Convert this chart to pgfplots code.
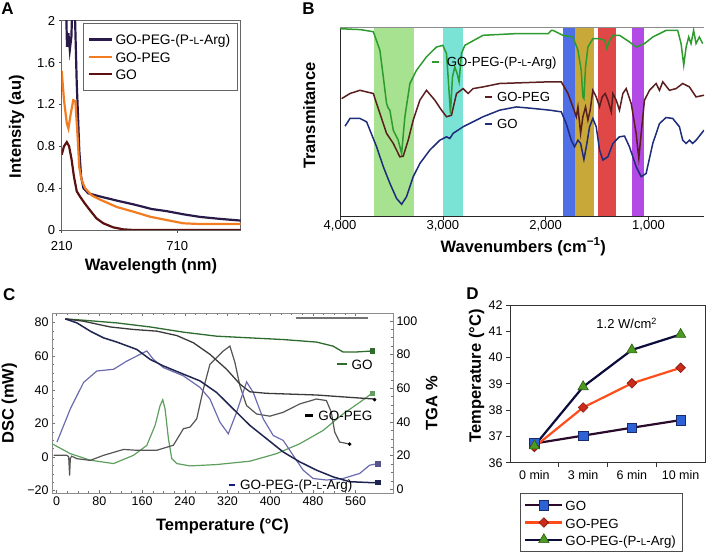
\documentclass[border=0pt]{standalone}
\usepackage{fontspec}
\setmainfont{Liberation Sans}
\usepackage{graphicx}
\usepackage{pgfplots}
\pgfplotsset{compat=1.18}
\newcommand\fs[1]{\fontsize{#1pt}{#1pt}\selectfont}
\newcommand\Lsc{\scalebox{0.75}{L}}
\newcommand\PLA{GO-PEG-(P-\Lsc-Arg)}
\newcommand\lstrutA{\rule[-3.5pt]{0pt}{15.5pt}}
\newcommand\lstrutD{\rule[-3.8pt]{0pt}{16.5pt}}
\definecolor{aPLA}{HTML}{2A1A4A}
\definecolor{aPEG}{HTML}{F47C20}
\definecolor{aGO}{HTML}{5C1010}
\definecolor{bG}{HTML}{2E9B2E}
\definecolor{bP}{HTML}{5A1E1E}
\definecolor{bB}{HTML}{1E2C7A}
\definecolor{band1}{HTML}{A6E28F}
\definecolor{band2}{HTML}{7BE3D6}
\definecolor{band3}{HTML}{4F6FE6}
\definecolor{band4}{HTML}{C9A83A}
\definecolor{band5}{HTML}{E04848}
\definecolor{band6}{HTML}{B44AE6}
\definecolor{cTG}{HTML}{2E6B2E}
\definecolor{cTP}{HTML}{3A3A3A}
\definecolor{cTA}{HTML}{1F2550}
\definecolor{cDA}{HTML}{6B6BB0}
\definecolor{cDP}{HTML}{555555}
\definecolor{cDG}{HTML}{5E9E5E}
\definecolor{dGOl}{HTML}{2A0A2A}
\definecolor{dGOm}{HTML}{2D62D6}
\definecolor{dGOe}{HTML}{1A2A6A}
\definecolor{dPl}{HTML}{FF4D1A}
\definecolor{dPm}{HTML}{CC2A1A}
\definecolor{dPe}{HTML}{7A1A10}
\definecolor{dAl}{HTML}{0C0C3C}
\definecolor{dAm}{HTML}{4C9A22}
\definecolor{dAe}{HTML}{2A5A10}
\begin{document}
\begin{tikzpicture}
\useasboundingbox (0pt,0pt) rectangle (706pt,553pt);
%%%%%%%%%%%%%%%% Panel A
\begin{axis}[
  at={(61.7pt,323pt)}, anchor=south west, scale only axis,
  width=179pt, height=209.3pt,
  xmin=210, xmax=984, ymin=0, ymax=2,
  xtick={210,710}, xticklabels={210,710},
  ytick={0,0.4,0.8,1.2,1.6,2}, yticklabels={0,0.4,0.8,1.2,1.6,2},
  tick align=outside, xtick pos=bottom, ytick pos=left, major tick length=3pt,
  tick style={black!70, line width=0.6pt},
  axis line style={black!60, line width=0.8pt},
  ticklabel style={font=\fs{13}},
  xticklabel style={yshift=-5pt},
  legend style={at={(axis description cs:0.119,0.989)}, anchor=north west,
    draw=black!60, line width=0.6pt, inner xsep=5pt, inner ysep=9pt, row sep=2.8pt,
    font=\fs{13.8}, nodes={inner xsep=2pt, inner ysep=0.5pt}},
  legend cell align=left,
  legend image code/.code={\draw[#1] (0pt,0pt) -- (23pt,0pt);},
]
\addplot[aPLA, line width=2.2pt] coordinates {(227,2.3)(233,1.75)(239,1.88)(245,1.72)(252,1.85)(258,2.3)(263,2.3)(268,2.0)(275,1.4)(279,1.18)(286,0.76)(294,0.51)(304,0.4)(325,0.35)(376,0.32)(450,0.28)(520,0.245)(600,0.2)(664,0.18)(736,0.15)(808,0.125)(900,0.105)(984,0.09)};
\addlegendentry{\lstrutA\PLA}
\addplot[aPEG, line width=2.2pt] coordinates {(210,1.52)(220,1.24)(232,1.02)(239,0.97)(249,1.11)(260,1.24)(269,1.23)(278,0.92)(286,0.6)(296,0.48)(311,0.4)(340,0.33)(376,0.29)(448,0.22)(520,0.175)(592,0.127)(664,0.095)(736,0.064)(808,0.057)(984,0.057)};
\addlegendentry{\lstrutA GO-PEG}
\addplot[aGO, line width=2.2pt] coordinates {(210,0.72)(220,0.8)(232,0.84)(242,0.8)(253,0.67)(263,0.51)(275,0.37)(289,0.32)(311,0.25)(332,0.19)(361,0.11)(390,0.064)(433,0.025)(477,0.006)(520,0)(984,0)};
\addlegendentry{\lstrutA GO}
\end{axis}
%%%%%%%%%%%%%%%% Panel B
\begin{axis}[
  at={(340pt,337pt)}, anchor=south west, scale only axis,
  width=364pt, height=189pt,
  x dir=reverse, xmin=460, xmax=4000, ymin=0, ymax=100,
  axis x line*=bottom, axis y line*=left,
  axis line style={-, black!85, line width=0.8pt},
  xtick={1000,2000,3000,4000}, xticklabels={{1,000},{2,000},{3,000},{4,000}},
  ytick=\empty, tick align=outside, major tick length=4pt,
  tick style={black!80, line width=0.6pt},
  ticklabel style={font=\fs{13}},
  xticklabel style={yshift=3pt},
]
\addplot[fill=band1, draw=none] coordinates {(3667,0)(3667,100)(3278,100)(3278,0)} -- cycle;
\addplot[fill=band2, draw=none] coordinates {(3000,0)(3000,100)(2800,100)(2800,0)} -- cycle;
\addplot[fill=band3, draw=none] coordinates {(1832,0)(1832,100)(1719,100)(1719,0)} -- cycle;
\addplot[fill=band4, draw=none] coordinates {(1719,0)(1719,100)(1534,100)(1534,0)} -- cycle;
\addplot[fill=band5, draw=none] coordinates {(1492,0)(1492,100)(1320,100)(1320,0)} -- cycle;
\addplot[fill=band6, draw=none] coordinates {(1165,0)(1165,100)(1046,100)(1046,0)} -- cycle;
\draw[black!45, line width=0.6pt] (rel axis cs:0,1) -- (rel axis cs:1,1);
\addplot[bG, line width=1.5pt] coordinates {(4000,99.1)(3800,98.6)(3676,97.5)(3612,87.7)(3579,73.6)(3547,59.5)(3530,57)(3515,56.0)(3482,45.4)(3434,40.1)(3401,33.1)(3369,52.5)(3320,70.1)(3256,77.1)(3159,84.2)(3062,89.4)(3000,90.3)(2964,85.9)(2942,68.3)(2926,54.2)(2906,73.6)(2884,78.9)(2861,75.4)(2842,71.0)(2819,85.9)(2786,90.3)(2609,95.6)(2285,96.5)(1974,96.5)(1945,98.2)(1929,98.2)(1832,95.6)(1735,94.7)(1686,87.7)(1654,77.1)(1638,63.0)(1628,62.1)(1612,78.9)(1589,89.4)(1541,93.8)(1476,93.8)(1427,93.0)(1405,88.6)(1385,92.1)(1346,95.6)(1282,95.6)(1185,92.1)(1120,89.4)(1039,91.2)(958,94.7)(829,98.2)(716,98.2)(683,91.2)(657,79.8)(634,89.4)(609,94.7)(586,91.2)(561,98.2)(537,91.2)(505,94.7)(473,91.2)};
\addplot[bP, line width=1.5pt] coordinates {(3984,62.1)(3903,64.8)(3806,66.5)(3676,64.8)(3612,54.2)(3547,43.7)(3482,38.4)(3418,31.3)(3385,31.7)(3337,40.1)(3288,50.7)(3223,61.3)(3159,66.5)(3078,61.3)(3013,56.0)(2964,52.5)(2916,53.3)(2867,64.8)(2803,67.4)(2754,64.8)(2706,67.4)(2609,68.3)(2447,70.1)(2285,70.4)(1961,71.0)(1848,71.0)(1783,64.8)(1735,57.7)(1702,52.5)(1686,57.7)(1660,43.7)(1638,52.5)(1612,57.7)(1589,50.7)(1567,56.0)(1541,66.5)(1508,63.0)(1476,57.7)(1450,63.0)(1421,64.8)(1395,61.3)(1362,55.1)(1346,64.8)(1314,61.3)(1282,56.0)(1249,64.8)(1217,67.4)(1168,59.5)(1120,43.7)(1094,30.5)(1071,43.7)(1039,61.3)(990,66.5)(958,68.3)(926,70.1)(893,66.5)(861,71.0)(796,66.5)(732,67.4)(667,70.1)(602,68.3)(537,63.0)(460,63.9)};
\addplot[bB, line width=1.5pt] coordinates {(3951,47.5)(3903,51.6)(3806,51.6)(3741,49.8)(3644,36.6)(3579,26.1)(3515,17.3)(3450,9.3)(3401,6.2)(3353,10.2)(3288,20.8)(3223,27.8)(3126,34.9)(3029,40.1)(2964,41.9)(2932,41.0)(2900,43.7)(2803,47.2)(2609,52.5)(2447,56.0)(2285,57.7)(2123,56.9)(1961,56.0)(1848,55.1)(1800,48.9)(1751,40.1)(1719,36.6)(1686,40.1)(1660,38.4)(1628,29.9)(1599,38.4)(1573,47.2)(1541,51.6)(1508,47.2)(1476,34.9)(1444,29.6)(1395,31.3)(1346,38.4)(1282,41.9)(1233,42.3)(1185,36.6)(1120,26.1)(1071,20.8)(1023,22.5)(958,38.4)(893,48.9)(829,52.1)(764,51.6)(699,47.2)(667,40.1)(634,38.4)(602,40.1)(570,38.4)(537,40.1)(460,45.4)};
\end{axis}
%%%%%%%%%%%%%%%% Panel C (DSC axis)
\begin{axis}[
  at={(52pt,59.7pt)}, anchor=south west, scale only axis,
  width=341pt, height=180.3pt,
  xmin=-8.8, xmax=630, ymin=-21.6, ymax=85.7,
  xtick={0,80,160,240,320,400,480,560}, xticklabels={0,80,160,240,320,400,480,560},
  minor x tick num=3,
  ytick={-20,0,20,40,60,80}, yticklabels={−20,0,20,40,60,80}, minor y tick num=3,
  tick align=inside, xtick pos=both, ytick pos=left,
  major tick length=3pt, minor tick length=1.8pt,
  axis line style={black!45, line width=0.7pt},
  tick style={black!55, line width=0.5pt},
  ticklabel style={font=\fs{12.5}},
]
\addplot[black!55, line width=1.1pt] coordinates {(449,82.7)(583,82.7)};
\addplot[cDG, line width=1.2pt] coordinates {(-8.8,7.9)(25.5,2.0)(62.8,-1.9)(106.5,-3.9)(143.8,1.0)(168.8,6.9)(184.3,18.8)(193.7,30.6)(198.7,34.1)(203,28.6)(209.3,10.9)(215.5,-0.9)(224.8,-3.9)(249.8,-5.3)(299.6,-4.5)(361.9,-2.5)(411.8,2.0)(455.4,7.9)(499.0,15.8)(536.3,25.6)(567.5,32.5)(591.2,38.0)};
\addplot[cDP, line width=1.2pt] coordinates {(-5.7,1.0)(19.2,1.0)(22.5,0)(24.2,-11)(25.5,-1)(28,0.5)(37.9,-1.0)(62.8,-2.0)(87.8,1.0)(125.1,4.5)(150,4.0)(187.4,4.0)(218.6,7.0)(237.3,16.8)(249.8,17.8)(262.3,22.7)(274.7,40.4)(287.1,55.2)(299.6,59.1)(312.1,63.1)(324.5,66.0)(333.9,56.2)(343.2,42.4)(355.7,30.6)(374.4,25.6)(399.4,24.3)(424.2,26.6)(455.4,31.6)(486.5,34.5)(505.2,33.6)(514.5,26.6)(520.8,14.8)(530.1,8.9)(548.8,7.7)};
\addplot[cDA, line width=1.2pt] coordinates {(0.5,8.9)(25.5,28.6)(50.4,44.4)(75.3,51.2)(106.5,52.2)(131.4,57.1)(156.3,61.1)(168.8,63.1)(181.2,58.1)(199.9,53.2)(237.3,48.3)(268.4,41.4)(287.1,34.5)(305.8,20.7)(321.4,13.8)(337,26.6)(355.7,44.7)(368.2,38.4)(386.9,22.7)(405.6,12.8)(424.2,9.9)(442.9,1.0)(461.6,-7.8)(480.3,-12.8)(505.2,-13.7)(536.3,-12.8)(567.5,-9.8)(586.2,-4.9)(601.8,-3.9)};
\addplot[cTG, line width=1.3pt] coordinates {(16.1,82.2)(50.4,81.4)(112.7,79.8)(175,77.4)(237.3,74.3)(299.6,71.9)(361.9,70.9)(424.2,69.9)(486.5,68.4)(517.6,66)(536.3,62.5)(561.2,62.5)(591.2,63.1)};
\addplot[cTP, line width=1.3pt] coordinates {(16.1,82.2)(50.4,80.8)(100.2,77.4)(143.8,75.9)(187.4,74.9)(224.8,72.3)(256,68)(287.1,61.1)(318.3,52.2)(343.2,43.4)(361.9,38.8)(393.1,37.9)(486.5,36.9)(548.8,35.5)(595.5,34.5)};
\addplot[cTA, line width=1.5pt] coordinates {(16.1,82.2)(37.9,79.8)(62.8,74.9)(87.8,70.9)(112.7,68.4)(150.1,64.0)(175,58.1)(199.9,54.2)(237.3,49.3)(268.4,45.3)(299.6,38.4)(330.7,28.6)(361.9,18.8)(393.1,10.9)(424.2,3.0)(455.4,-2.9)(486.5,-7.8)(517.6,-11.8)(548.8,-14.7)(592.4,-15.3)(601.8,-15.1)};
% end markers
\addplot[only marks, mark=square*, mark size=2.3pt, cTG] coordinates {(591.2,63.1)};
\addplot[only marks, mark=square*, mark size=2.3pt, cDG] coordinates {(591.2,38.0)};
\addplot[only marks, mark=square*, mark size=2.3pt, cTA] coordinates {(601.8,-15.1)};
\addplot[only marks, mark=square*, mark size=2.3pt, cDA!80!black] coordinates {(601.8,-3.9)};
\addplot[only marks, mark=*, mark size=1.6pt, black] coordinates {(595.5,34.1)};
\addplot[only marks, mark=*, mark size=1.6pt, black] coordinates {(548.8,7.7)};
\end{axis}
%%%%%%%%%%%%%%%% Panel C (TGA axis)
\begin{axis}[
  at={(52pt,59.7pt)}, anchor=south west, scale only axis,
  width=341pt, height=180.3pt,
  xmin=-8.8, xmax=630, ymin=-2.4, ymax=104.7,
  axis x line=none, axis y line*=right,
  axis line style={-, black!45, line width=0.7pt},
  ytick={0,20,40,60,80,100}, yticklabels={0,20,40,60,80,100}, minor y tick num=3,
  tick align=inside, major tick length=3pt, minor tick length=1.8pt,
  tick style={black!55, line width=0.5pt},
  ticklabel style={font=\fs{12.5}},
]
\addplot[draw=none] coordinates {(0,0)};
\end{axis}
%%%%%%%%%%%%%%%% Panel D
\begin{axis}[
  at={(510pt,90.3pt)}, anchor=south west, scale only axis,
  width=195pt, height=157.7pt,
  xmin=0, xmax=4, ymin=36, ymax=42,
  xtick={0.5,1.5,2.5,3.5}, xticklabels={0 min,3 min,6 min,10 min},
  minor xtick={1,2,3}, ytick={36,37,38,39,40,41,42}, yticklabels={36,37,38,39,40,41,42},
  tick align=outside, xtick pos=bottom, ytick pos=left,
  major tick length=4pt, minor tick length=4pt,
  major x tick style={draw=none},
  tick style={black!80, line width=0.7pt},
  axis line style={black!80, line width=0.8pt},
  ticklabel style={font=\fs{12.5}},
  legend style={at={(axis description cs:0.051,-0.194)}, anchor=north west,
    draw=black!70, line width=0.6pt, inner xsep=4pt, inner ysep=4pt, row sep=1.8pt,
    font=\fs{13.3}, nodes={inner xsep=2pt, inner ysep=0.6pt}},
  legend cell align=left,
  legend image code/.code={\draw[mark repeat=2,mark phase=2,#1] plot coordinates {(0pt,0pt)(18.5pt,0pt)(37pt,0pt)};},
]
\addplot[dGOl, line width=2.2pt, mark=square*, mark size=4.8pt, mark options={solid, fill=dGOm, draw=dGOe, line width=0.6pt}] coordinates {(0.5,36.73)(1.5,37.03)(2.5,37.33)(3.5,37.62)};
\addlegendentry{\lstrutD GO}
\addplot[dPl, line width=2.2pt, mark=square*, mark size=3.4pt, mark options={solid, rotate=45, fill=dPm, draw=dPe, line width=0.6pt}] coordinates {(0.5,36.6)(1.5,38.1)(2.5,39.02)(3.5,39.61)};
\addlegendentry{\lstrutD GO-PEG}
\addplot[dAl, line width=2.2pt, mark=triangle*, mark size=6pt, mark options={solid, fill=dAm, draw=dAe, line width=0.6pt}] coordinates {(0.5,36.64)(1.5,38.89)(2.5,40.29)(3.5,40.88)};
\addlegendentry{\lstrutD\PLA}
\end{axis}
%%%%%%%%%%%%%%%% Texts
\node[font=\bfseries\fs{17}] at (7.5pt,544.2pt) {A};
\node[font=\bfseries\fs{16.5}, rotate=90] at (16.7pt,426.3pt) {Intensity (au)};
\node[font=\bfseries\fs{16.5}] at (151pt,287pt) {Wavelength (nm)};
\node[font=\bfseries\fs{17}] at (308.5pt,544.2pt) {B};
\node[font=\bfseries\fs{16.5}, rotate=90] at (309.3pt,437.2pt) {Transmitance};
\node[font=\bfseries\fs{16.5}] at (523.3pt,306.3pt) {Wavenumbers (cm\textsuperscript{−1})};
\node[font=\fs{13.2}, anchor=base west, inner sep=0pt] at (431.7pt,486.6pt) {\textcolor{bG}{\rule[3.7pt]{7pt}{2pt}}\hspace{8pt}\PLA};
\node[font=\fs{13.2}, anchor=base west, inner sep=0pt] at (485pt,451pt) {\textcolor{bP}{\rule[3.7pt]{7pt}{2pt}}\hspace{5pt}GO-PEG};
\node[font=\fs{13.2}, anchor=base west, inner sep=0pt] at (485pt,424.3pt) {\textcolor{bB}{\rule[3.7pt]{7pt}{2pt}}\hspace{5pt}GO};
\node[font=\bfseries\fs{17}] at (9.2pt,258pt) {C};
\node[font=\bfseries\fs{16.5}, rotate=90] at (9.3pt,149.7pt) {DSC (mW)};
\node[font=\bfseries\fs{16.5}] at (222.5pt,26.3pt) {Temperature (°C)};
\node[font=\bfseries\fs{16.5}, rotate=90] at (431.7pt,149.7pt) {TGA \%};
\node[font=\fs{13.5}, anchor=base west, inner sep=0pt] at (336.5pt,183.9pt) {\textcolor{cTG}{\rule[3.7pt]{10pt}{2.5pt}}\hspace{5pt}GO};
\node[font=\fs{13.5}, anchor=base west, inner sep=0pt] at (304.9pt,132.6pt) {\textcolor{black}{\rule[3.7pt]{8.3pt}{2.5pt}}\hspace{5pt}GO-PEG};
\node[font=\fs{13.5}, anchor=base west, inner sep=0pt] at (228.3pt,63.1pt) {\textcolor{cTA!70!blue}{\rule[3.7pt]{6.7pt}{2.5pt}}\hspace{5pt}\PLA};
\node[font=\bfseries\fs{17}] at (472.5pt,259.2pt) {D};
\node[font=\bfseries\fs{16.5}, rotate=90] at (476.7pt,177.2pt) {Temperature (°C)};
\node[font=\fs{13}] at (626.7pt,229.7pt) {1.2 W/cm\textsuperscript{2}};
\end{tikzpicture}
\end{document}
